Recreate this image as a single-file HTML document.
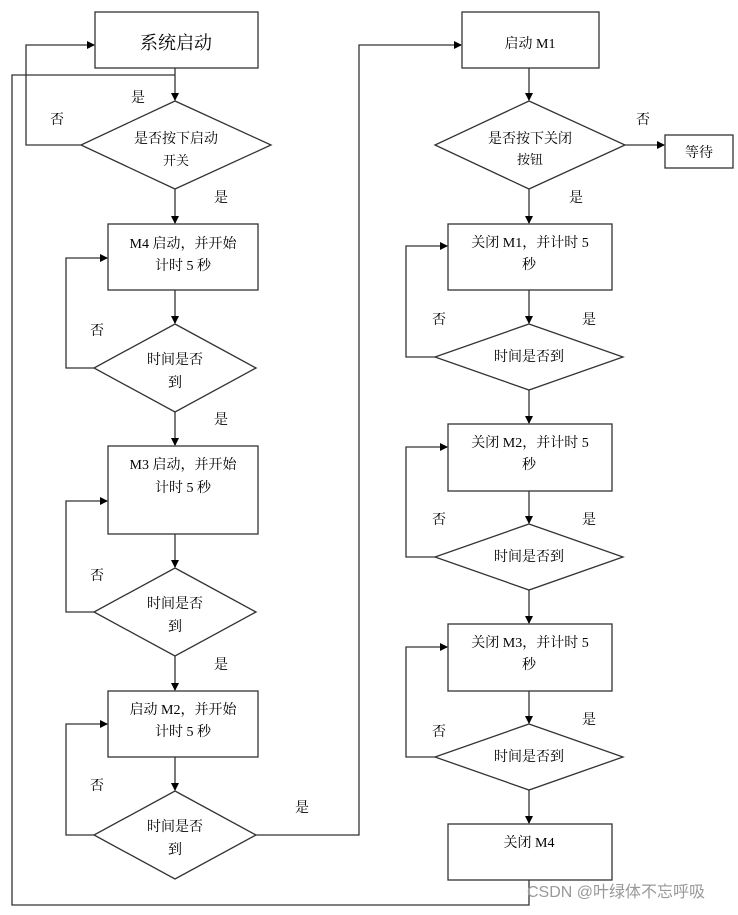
<!DOCTYPE html>
<html><head><meta charset="utf-8"><style>
html,body{margin:0;padding:0;background:#fff;}
svg text{font-family:"Liberation Serif","Noto Serif CJK SC","Noto Sans CJK SC",serif;font-size:14px;fill:#000;text-anchor:middle;}
</style></head><body>
<svg width="738" height="910" viewBox="0 0 738 910" xmlns="http://www.w3.org/2000/svg">
<defs><marker id="a" markerWidth="8" markerHeight="8" refX="7" refY="4" orient="auto" markerUnits="userSpaceOnUse"><path d="M0,0 L8,4 L0,8 z" fill="#000"/></marker></defs>
<g fill="none" stroke="#333" stroke-width="1.3">
<!-- left column -->
<rect x="95" y="12" width="163" height="56"/>
<path d="M175,68 V100" marker-end="url(#a)"/>
<polygon points="175,101 271,145 175,189 81,145"/>
<path d="M81,145 H26 V45 H94" marker-end="url(#a)"/>
<path d="M175,189 V223" marker-end="url(#a)"/>
<rect x="108" y="224" width="150" height="66"/>
<path d="M175,290 V323" marker-end="url(#a)"/>
<polygon points="175,324 256,368 175,412 94,368"/>
<path d="M94,368 H66 V258 H107" marker-end="url(#a)"/>
<path d="M175,412 V445" marker-end="url(#a)"/>
<rect x="108" y="446" width="150" height="88"/>
<path d="M175,534 V567" marker-end="url(#a)"/>
<polygon points="175,568 256,612 175,656 94,612"/>
<path d="M94,612 H66 V501 H107" marker-end="url(#a)"/>
<path d="M175,656 V690" marker-end="url(#a)"/>
<rect x="108" y="691" width="150" height="66"/>
<path d="M175,757 V790" marker-end="url(#a)"/>
<polygon points="175,791 256,835 175,879 94,835"/>
<path d="M94,835 H66 V724 H107" marker-end="url(#a)"/>
<path d="M256,835 H359 V45 H461" marker-end="url(#a)"/>
<path d="M529,880 V905 H12 V75 H175"/>
<!-- right column -->
<rect x="462" y="12" width="137" height="56"/>
<path d="M529,68 V100" marker-end="url(#a)"/>
<polygon points="529,101 625,145 529,189 435,145"/>
<path d="M625,145 H664" marker-end="url(#a)"/>
<rect x="665" y="135" width="68" height="33"/>
<path d="M529,189 V223" marker-end="url(#a)"/>
<rect x="448" y="224" width="164" height="66"/>
<path d="M529,290 V323" marker-end="url(#a)"/>
<polygon points="529,324 623,357 529,390 435,357"/>
<path d="M435,357 H406 V246 H447" marker-end="url(#a)"/>
<path d="M529,390 V423" marker-end="url(#a)"/>
<rect x="448" y="424" width="164" height="67"/>
<path d="M529,491 V523" marker-end="url(#a)"/>
<polygon points="529,524 623,557 529,590 435,557"/>
<path d="M435,557 H406 V447 H447" marker-end="url(#a)"/>
<path d="M529,590 V623" marker-end="url(#a)"/>
<rect x="448" y="624" width="164" height="67"/>
<path d="M529,691 V723" marker-end="url(#a)"/>
<polygon points="529,724 623,757 529,790 435,757"/>
<path d="M435,757 H406 V647 H447" marker-end="url(#a)"/>
<path d="M529,790 V823" marker-end="url(#a)"/>
<rect x="448" y="824" width="164" height="56"/>
</g>
<text x="176" y="49" style="font-size:18px">系统启动</text>
<text x="176" y="143">是否按下启动</text>
<text x="176" y="165" style="font-size:13px">开关</text>
<text x="138" y="102">是</text><text x="57" y="124">否</text><text x="221" y="202">是</text>
<text x="183" y="248">M4 启动，并开始</text>
<text x="183" y="270">计时 5 秒</text>
<text x="175" y="364">时间是否</text><text x="175" y="387">到</text>
<text x="97" y="335">否</text><text x="221" y="424">是</text>
<text x="183" y="469">M3 启动，并开始</text>
<text x="183" y="492">计时 5 秒</text>
<text x="175" y="608">时间是否</text><text x="175" y="631">到</text>
<text x="97" y="580">否</text><text x="221" y="669">是</text>
<text x="183" y="714">启动 M2，并开始</text>
<text x="183" y="736">计时 5 秒</text>
<text x="175" y="831">时间是否</text><text x="175" y="854">到</text>
<text x="97" y="790">否</text><text x="302" y="812">是</text>
<text x="530" y="48">启动 M1</text>
<text x="530" y="143">是否按下关闭</text>
<text x="530" y="164" style="font-size:13px">按钮</text>
<text x="643" y="124">否</text><text x="576" y="202">是</text>
<text x="699" y="157">等待</text>
<text x="530" y="247">关闭 M1，并计时 5</text><text x="529" y="269">秒</text>
<text x="529" y="361">时间是否到</text>
<text x="439" y="324">否</text><text x="589" y="324">是</text>
<text x="530" y="447">关闭 M2，并计时 5</text><text x="529" y="469">秒</text>
<text x="529" y="561">时间是否到</text>
<text x="439" y="524">否</text><text x="589" y="524">是</text>
<text x="530" y="647">关闭 M3，并计时 5</text><text x="529" y="669">秒</text>
<text x="529" y="761">时间是否到</text>
<text x="439" y="736">否</text><text x="589" y="724">是</text>
<text x="529" y="847">关闭 M4</text>
<text x="616" y="897" style="font-family:'Liberation Sans','Noto Sans CJK SC',sans-serif;font-size:16px;fill:#999">CSDN @叶绿体不忘呼吸</text>
</svg>
</body></html>
